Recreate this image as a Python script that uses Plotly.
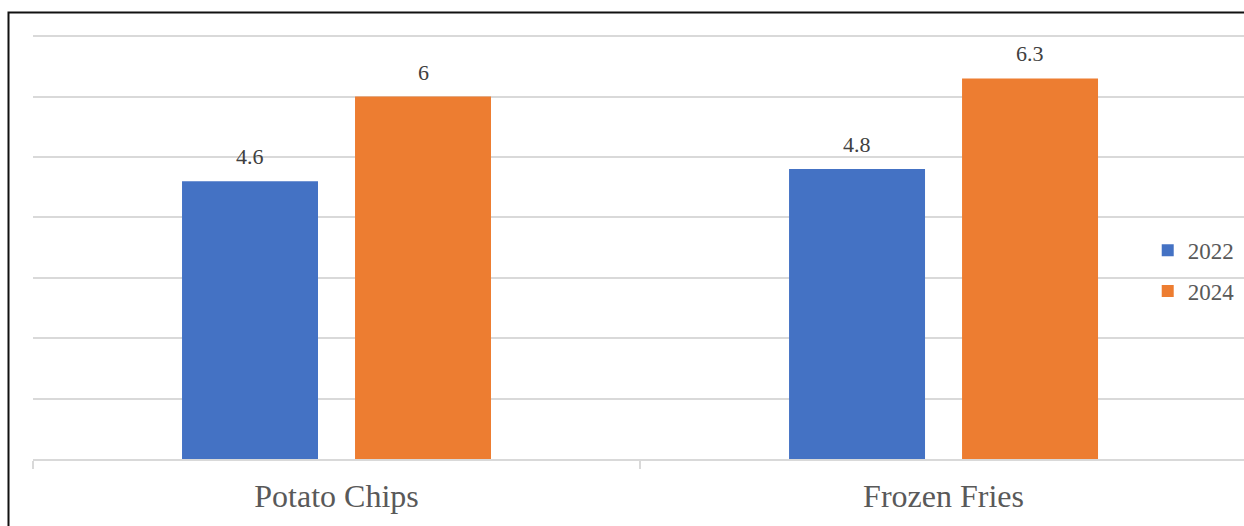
import plotly.graph_objects as go

categories = ["Potato Chips", "Frozen Fries"]
series_names = ["2022", "2024"]
values_2022 = [4.6, 4.8]
values_2024 = [6.0, 6.3]
colors = ["#4472C4", "#ED7D31"]

FONT = "Liberation Serif"
BARGAP = 0.43
GROUPGAP = 0.214

fig = go.Figure()
all_series = [values_2022, values_2024]
for name, vals, col in zip(series_names, all_series, colors):
    fig.add_trace(go.Bar(
        x=categories, y=vals, name=name, marker=dict(color=col, line=dict(width=0)),
        legendgroup=name, hoverinfo="x+y+name",
    ))

# value labels placed above each bar (offset derived from the bar layout)
slot = (1 - BARGAP) / len(all_series)
for j, vals in enumerate(all_series):
    for i, v in enumerate(vals):
        fig.add_annotation(
            x=i + (j - (len(all_series) - 1) / 2) * slot, y=v, xref="x", yref="y",
            text=f"{v:g}", showarrow=False, yanchor="bottom", yshift=10,
            font=dict(family=FONT, size=22, color="#404040"),
        )

fig.update_layout(
    width=1244, height=526,
    margin=dict(l=33, r=0, t=35, b=67, autoexpand=False),
    paper_bgcolor="white", plot_bgcolor="white",
    barmode="group", bargap=BARGAP, bargroupgap=GROUPGAP,
    font=dict(family=FONT, color="#595959"),
    showlegend=True,
    legend=dict(x=0.9205, y=0.444, xanchor="left", yanchor="middle",
                font=dict(family=FONT, size=23, color="#595959"),
                tracegroupgap=8, traceorder="grouped", itemwidth=30,
                bgcolor="rgba(0,0,0,0)"),
    xaxis=dict(type="category", showgrid=False, showline=True, linecolor="#d9d9d9", linewidth=1.5,
               ticks="outside", tickson="boundaries", ticklen=8, tickcolor="#d9d9d9",
               tickwidth=1.5, tickfont=dict(family=FONT, size=32, color="#595959"),
               ticklabelstandoff=8, range=[-0.5, 1.495]),
    yaxis=dict(range=[0, 7.02], dtick=1, showgrid=True, gridcolor="#d9d9d9", gridwidth=1.5,
               showticklabels=False, zeroline=False, ticks=""),
)
fig.add_shape(type="rect", xref="paper", yref="paper",
              x0=(8.5 - 33) / 1211, x1=1.02, y0=-0.2, y1=(459 - 12.5) / 424,
              line=dict(color="#111111", width=2), fillcolor="rgba(0,0,0,0)", layer="above")

fig.write_html("out.html")
